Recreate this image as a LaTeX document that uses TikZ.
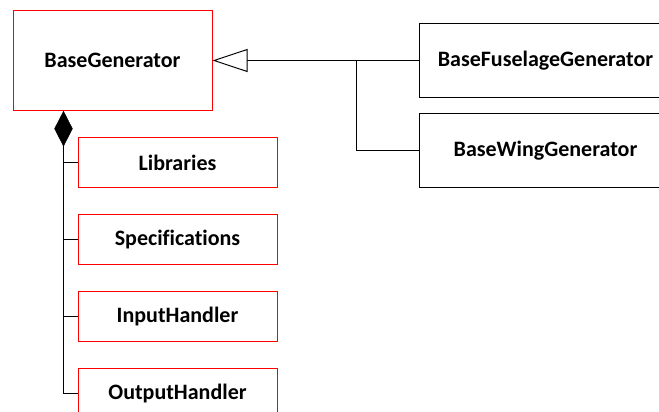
\documentclass[tikz,border=0pt]{standalone}
\usepackage{fontspec}
\setmainfont[Ligatures=NoCommon]{Carlito}
\usetikzlibrary{arrows.meta,shapes.geometric}
\begin{document}
\begin{tikzpicture}[x=1pt,y=-1pt,
  boxtext/.style={font=\bfseries\fontsize{22}{26}\selectfont},
  redbox/.style={boxtext, draw=red, line width=1pt, fill=white, inner sep=0pt},
  blackbox/.style={boxtext, draw=black, line width=1pt, fill=white, inner sep=0pt},
  link/.style={draw=black, line width=1pt}]
\useasboundingbox (0,0) rectangle (659,412);
\begin{scope}
\clip (0,0) rectangle (659,412);
% parent class
\node[redbox, minimum width=199pt, minimum height=100pt] (base) at (112.5,60.5) {BaseGenerator};
% subclasses
\node[blackbox, minimum width=252pt, minimum height=74pt, anchor=west] (fus) at (419,60.5) {BaseFuselageGenerator};
\node[blackbox, minimum width=252pt, minimum height=74pt, anchor=west] (wing) at (419,150.5) {BaseWingGenerator};
% components
\node[redbox, minimum width=199pt, minimum height=50pt] (lib) at (177.5,162.5) {Libraries};
\node[redbox, minimum width=199pt, minimum height=50pt] (spec) at (177.5,239.5) {Specifications};
\node[redbox, minimum width=199pt, minimum height=50pt] (inp) at (177.5,316.5) {InputHandler};
\node[redbox, minimum width=199pt, minimum height=50pt] (out) at (177.5,393.5) {OutputHandler};
% generalisation
\coordinate (fork) at (356.5,60.5);
\draw[link, -{Triangle[open, length=35pt, width=23pt, fill=white]}] (fus.west) -- (base.east);
\draw[link] (fork) |- (wing.west);
% composition
\node[diamond, fill=black, draw=black, inner sep=0pt, minimum width=18pt, minimum height=35pt, anchor=north] (dia) at (base.south -| 63.5,0) {};
\coordinate (trunk) at (63.5,393.5);
\draw[link] (dia.south) -- (trunk);
\foreach \c in {lib,spec,inp,out}
  \draw[link] (\c.west) -- (\c.west -| trunk);
\end{scope}
\end{tikzpicture}
\end{document}
